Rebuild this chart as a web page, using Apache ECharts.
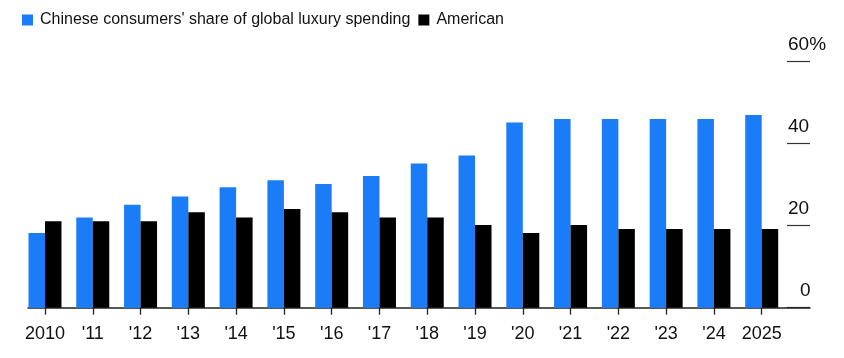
<!DOCTYPE html>
<html>
<head>
<meta charset="utf-8">
<script src="https://cdn.jsdelivr.net/npm/echarts@6/dist/echarts.min.js"></script>
<style>
html,body{margin:0;padding:0;background:#fff;}
#chart{width:844px;height:358px;}
</style>
</head>
<body>
<div id="chart"></div>
<script>
const categories = ['2010', "'11", "'12", "'13", "'14", "'15", "'16", "'17", "'18", "'19", "'20", "'21", "'22", "'23", "'24", '2025'];
const chineseShare = [18.2, 22.0, 25.1, 27.1, 29.4, 31.1, 30.2, 32.1, 35.2, 37.1, 45.2, 46.0, 46.0, 46.0, 46.0, 47.0];
const americanShare = [21.1, 21.1, 21.1, 23.3, 22.0, 24.1, 23.3, 22.0, 22.0, 20.2, 18.2, 20.2, 19.2, 19.2, 19.2, 19.2];
const yTicks = [0, 20, 40, 60];
const seriesNames = ["Chinese consumers' share of global luxury spending", 'American'];

const FONT = '"Liberation Sans", Arial, Helvetica, sans-serif';
const TOP = 61.7, BOTTOM_Y = 307.7, HEIGHT = BOTTOM_Y - TOP;
const LEFT = 21.1, WIDTH = 764.5;
const chart = echarts.init(document.getElementById('chart'), null, {renderer: 'canvas'});
chart.setOption({
  animation: false,
  backgroundColor: '#fff',
  textStyle: {fontFamily: FONT},
  legend: {
    left: 22, top: 12, padding: 0,
    itemWidth: 11, itemHeight: 11, itemGap: 8,
    icon: 'rect',
    textStyle: {fontFamily: FONT, fontSize: 16, color: '#111', padding: [0, 0, 0, 2]},
    data: seriesNames
  },
  grid: [
    {left: LEFT, width: WIDTH, top: TOP, height: HEIGHT, outerBoundsMode: 'none'},
    {left: 28, width: 782, top: TOP, height: HEIGHT, outerBoundsMode: 'none'},
    {left: 787, width: 23, top: TOP, height: HEIGHT, outerBoundsMode: 'none'}
  ],
  xAxis: [
    {
      gridIndex: 0, type: 'category', data: categories, boundaryGap: true,
      axisLine: {show: false},
      axisTick: {show: true, interval: 0, alignWithLabel: true, length: 7, lineStyle: {color: '#222', width: 1.3}},
      axisLabel: {interval: 0, fontFamily: FONT, fontSize: 18, color: '#111', margin: 17}
    },
    {
      gridIndex: 1, type: 'value', min: 0, max: 1,
      axisLine: {show: true, onZero: false, lineStyle: {color: '#222', width: 1.5}},
      axisTick: {show: false}, axisLabel: {show: false}, splitLine: {show: false}
    },
    {
      gridIndex: 2, type: 'value', min: 0, max: 1, show: false
    }
  ],
  yAxis: [
    {gridIndex: 0, type: 'value', min: 0, max: 60, interval: 20, show: false},
    {gridIndex: 1, type: 'value', min: 0, max: 60, interval: 20, show: false},
    {
      gridIndex: 2, type: 'value', min: 0, max: 60, interval: 20, position: 'right',
      axisLine: {show: false}, axisTick: {show: false},
      splitLine: {show: true, lineStyle: {color: '#333', width: 1.2}},
      axisLabel: {
        inside: true, margin: 22, align: 'left', verticalAlign: 'middle',
        fontFamily: FONT, fontSize: 19, color: '#111',
        formatter: function (v) {
          if (v === 60) return '{a|60%}';
          if (v === 0) return '{z|0}';
          return '{a|' + v + '}';
        },
        rich: {
          a: {fontFamily: FONT, fontSize: 19, color: '#111', padding: [0, 0, 34, 0]},
          z: {fontFamily: FONT, fontSize: 19, color: '#111', padding: [0, 0, 34, 12]}
        }
      }
    }
  ],
  series: [
    {
      name: seriesNames[0], type: 'bar', xAxisIndex: 0, yAxisIndex: 0,
      data: chineseShare, barWidth: 16.5, barGap: '0%',
      itemStyle: {color: '#1b7cf7'}
    },
    {
      name: seriesNames[1], type: 'bar', xAxisIndex: 0, yAxisIndex: 0,
      data: americanShare, barWidth: 16.5, barGap: '0%',
      itemStyle: {color: '#000'}
    }
  ]
});
</script>
</body>
</html>
